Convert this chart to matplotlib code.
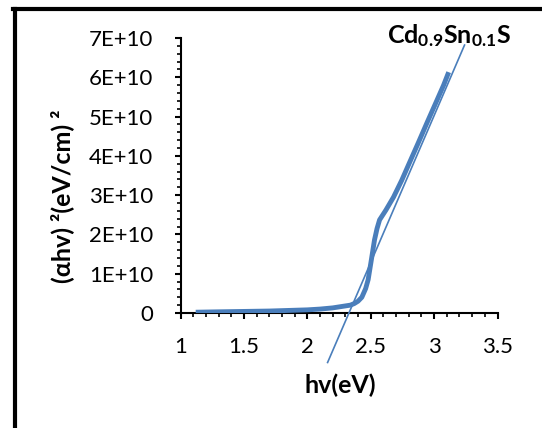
import matplotlib
matplotlib.use("Agg")
import matplotlib.pyplot as plt
from matplotlib.ticker import MultipleLocator, FuncFormatter
from matplotlib.lines import Line2D

# Tauc plot data
hv = [1.12, 1.30, 1.50, 1.70, 1.90, 2.00, 2.10, 2.20, 2.26, 2.30, 2.34,
      2.37, 2.40, 2.43, 2.46, 2.48, 2.505, 2.53, 2.55, 2.57, 2.62, 2.68,
      2.745, 2.805, 2.875, 2.945, 3.015, 3.075, 3.115]
ahv2 = [0.02, 0.03, 0.04, 0.05, 0.07, 0.08, 0.10, 0.13, 0.16, 0.18, 0.20,
        0.24, 0.30, 0.40, 0.62, 0.85, 1.35, 1.86, 2.15, 2.37, 2.62, 2.95,
        3.38, 3.82, 4.33, 4.85, 5.36, 5.80, 6.13]
ahv2 = [v * 1e10 for v in ahv2]

# linear extrapolation line (band gap fit)
fit_x = [2.16, 3.24]
fit_y = [-1.26e10, 6.82e10]

blue = "#4a7ebb"
plt.rcParams["font.family"] = ["Lato", "DejaVu Sans"]
plt.rcParams["mathtext.fontset"] = "custom"
plt.rcParams["mathtext.bf"] = "Lato:bold"
plt.rcParams["mathtext.rm"] = "Lato"

fig = plt.figure(figsize=(5.42, 4.28), dpi=100)
W, H = 542, 428
ax = fig.add_axes([180.5 / W, 1 - 313 / H, (497.5 - 180.5) / W, (313 - 38) / H])

ax.plot(hv, ahv2, color=blue, lw=3.5, solid_capstyle="butt", zorder=3)
ax.plot(fit_x, fit_y, color=blue, lw=1.2, clip_on=False, zorder=4)

ax.set_xlim(1, 3.5)
ax.set_ylim(0, 7e10)
ax.xaxis.set_major_locator(MultipleLocator(0.5))
ax.xaxis.set_minor_locator(MultipleLocator(0.1))
ax.yaxis.set_major_locator(MultipleLocator(1e10))
ax.yaxis.set_minor_locator(MultipleLocator(2e9))
ax.xaxis.set_major_formatter(FuncFormatter(lambda v, p: f"{v:g}"))
ax.yaxis.set_major_formatter(
    FuncFormatter(lambda v, p: "0" if v == 0 else f"{int(round(v / 1e10))}E+10"))

for s in ["top", "right"]:
    ax.spines[s].set_visible(False)
for s in ["left", "bottom"]:
    ax.spines[s].set_linewidth(1.5)
ax.tick_params(which="major", length=4.5, width=1.5, labelsize=16, direction="out")
ax.tick_params(which="minor", length=3, width=1.2, direction="out")
ax.tick_params(axis="x", which="major", pad=13)
ax.tick_params(axis="y", which="major", pad=15)

# axis titles placed like the original
fig.text(340 / W, 1 - 385 / H, "hv(eV)", fontsize=18, fontweight="bold",
         ha="center", va="center")
fig.text(62 / W, 1 - 196 / H, "(αhv) ²(eV/cm) ²", fontsize=18, fontweight="bold",
         ha="center", va="center", rotation=90)

fig.text(449 / W, 1 - 43 / H, r"$\mathbf{Cd_{0.9}Sn_{0.1}S}$", fontsize=18,
         ha="center", va="baseline")

# outer frame (cropped at right and bottom)
fig.add_artist(Line2D([15 / W, 15 / W], [0, 1 - 9 / H], color="black", lw=3,
                      transform=fig.transFigure))
fig.add_artist(Line2D([13 / W, 1], [1 - 9 / H, 1 - 9 / H], color="black", lw=3,
                      transform=fig.transFigure))

fig.savefig("out.png", dpi=100)
